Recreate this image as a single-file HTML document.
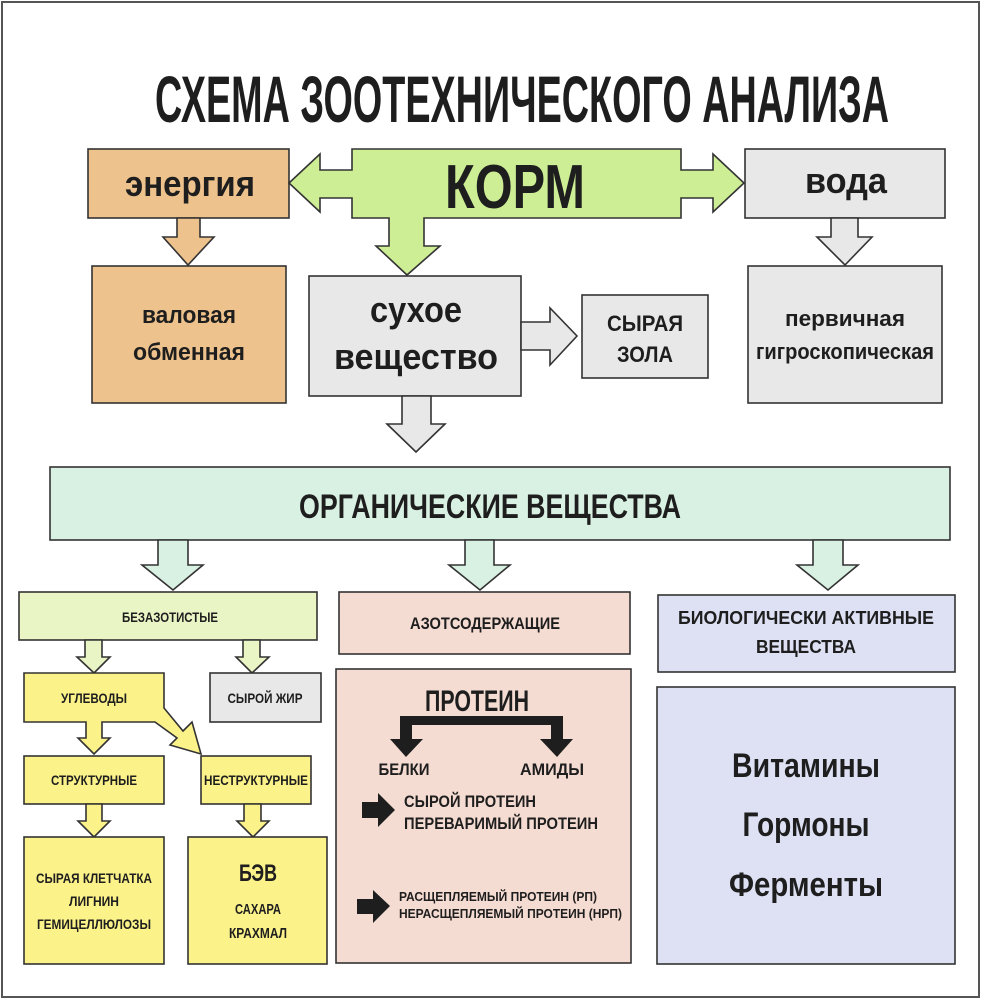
<!DOCTYPE html>
<html><head><meta charset="utf-8"><style>
html,body{margin:0;padding:0;background:#fff;}
svg{display:block;}
text{font-family:"Liberation Sans Narrow","Liberation Sans","DejaVu Sans Condensed",sans-serif;font-weight:bold;fill:#1e1e1e;}
</style></head><body>
<svg width="982" height="1000" viewBox="0 0 982 1000" xmlns="http://www.w3.org/2000/svg">
<rect x="0" y="0" width="982" height="1000" fill="#fff"/>
<rect x="2" y="2" width="977" height="995" fill="#fff" stroke="#555" stroke-width="2"/>
<text x="522" y="122" font-size="66" text-anchor="middle" textLength="734" lengthAdjust="spacingAndGlyphs">СХЕМА ЗООТЕХНИЧЕСКОГО АНАЛИЗА</text>

<g stroke="#333" stroke-width="1.6" stroke-linejoin="miter">
<rect x="88" y="149" width="201" height="69" fill="#EEC28C"/>
<polygon points="177,218 200,218 200,237 214,237 188,265 163,237 177,237" fill="#EEC28C"/>
<rect x="92" y="266" width="194" height="137" fill="#EEC28C"/>
<polygon points="352,149 681,149 681,170 713,170 713,154 744,183 713,212 713,198 681,198 681,218 424,218 424,246 440,246 407,275 376,246 389,246 389,218 352,218 352,198 320,198 320,212 289,183 320,154 320,170 352,170" fill="#CDEE94"/>
<rect x="745" y="149" width="200" height="69" fill="#E8E8E8"/>
<polygon points="831,218 858,218 858,237 872,237 845,265 817,237 831,237" fill="#E8E8E8"/>
<rect x="748" y="266" width="194" height="137" fill="#E8E8E8"/>
<rect x="309" y="276" width="212" height="120" fill="#E8E8E8"/>
<polygon points="521,322 550,322 550,308 577,336 550,365 550,350 521,350" fill="#E8E8E8"/>
<rect x="582" y="295" width="126" height="83" fill="#E8E8E8"/>
<polygon points="402,396 431,396 431,424 445,424 416,452 387,424 402,424" fill="#E8E8E8"/>
<rect x="50" y="467" width="900" height="73" fill="#D9F1E2"/>
<polygon points="158,540 188,540 188,565 203,565 173,590 142,565 158,565" fill="#D9F1E2"/>
<polygon points="465,540 494,540 494,565 510,565 480,590 449,565 465,565" fill="#D9F1E2"/>
<polygon points="813,540 843,540 843,565 858,565 828,590 797,565 813,565" fill="#D9F1E2"/>
<rect x="19" y="592" width="298" height="48" fill="#EAF5C5"/>
<polygon points="85,640 102,640 102,657 110,657 94,673 77,657 85,657" fill="#EAF5C5"/>
<polygon points="243,640 260,640 260,657 269,657 252,673 236,657 243,657" fill="#EAF5C5"/>
<polygon points="24,673 164,673 164,708 183,731 192,722 201,754 170,745 177,738 155,722 102,722 102,738 110,738 94,754 78,738 86,738 86,722 24,722" fill="#FCF28A"/>
<rect x="210" y="673" width="111" height="49" fill="#E8E8E8"/>
<rect x="24" y="756" width="140" height="48" fill="#FCF28A"/>
<rect x="201" y="756" width="110" height="48" fill="#FCF28A"/>
<polygon points="86,804 102,804 102,821 110,821 94,837 78,821 86,821" fill="#FCF28A"/>
<polygon points="244,804 261,804 261,821 269,821 253,837 237,821 244,821" fill="#FCF28A"/>
<rect x="24" y="837" width="140" height="127" fill="#FCF28A"/>
<rect x="188" y="837" width="139" height="127" fill="#FCF28A"/>
<rect x="339" y="592" width="291" height="62" fill="#F5DCD2"/>
<rect x="336" y="669" width="295" height="294" fill="#F5DCD2"/>
<rect x="658" y="595" width="297" height="77" fill="#DDE1F3"/>
<rect x="657" y="687" width="298" height="277" fill="#DDE1F3"/>
</g>

<g fill="#1e1e1e">
<polygon points="400,716 563,716 563,739 573,739 557,757 540,739 551,739 551,725 412,725 412,739 423,739 406,757 390,739 400,739"/>
<polygon points="362,802 378,802 378,793 395,810 378,827 378,818 362,818"/>
<polygon points="357,899 373,899 373,890 390,906 373,923 373,914 357,914"/>
</g>

<text x="190" y="196" font-size="36" text-anchor="middle" textLength="130" lengthAdjust="spacingAndGlyphs">энергия</text>
<text x="515" y="208" font-size="62" text-anchor="middle" textLength="140" lengthAdjust="spacingAndGlyphs">КОРМ</text>
<text x="846" y="193" font-size="36" text-anchor="middle" textLength="82" lengthAdjust="spacingAndGlyphs">вода</text>
<text x="189" y="323" font-size="24" text-anchor="middle" textLength="94" lengthAdjust="spacingAndGlyphs">валовая</text>
<text x="189" y="360" font-size="24" text-anchor="middle" textLength="112" lengthAdjust="spacingAndGlyphs">обменная</text>
<text x="416" y="322" font-size="36" text-anchor="middle" textLength="92" lengthAdjust="spacingAndGlyphs">сухое</text>
<text x="416" y="369" font-size="36" text-anchor="middle" textLength="164" lengthAdjust="spacingAndGlyphs">вещество</text>
<text x="645" y="331" font-size="22" text-anchor="middle" textLength="76" lengthAdjust="spacingAndGlyphs">СЫРАЯ</text>
<text x="645" y="362" font-size="22" text-anchor="middle" textLength="56" lengthAdjust="spacingAndGlyphs">ЗОЛА</text>
<text x="845" y="326" font-size="22" text-anchor="middle" textLength="120" lengthAdjust="spacingAndGlyphs">первичная</text>
<text x="845" y="359" font-size="22" text-anchor="middle" textLength="178" lengthAdjust="spacingAndGlyphs">гигроскопическая</text>
<text x="490" y="518" font-size="34" text-anchor="middle" textLength="382" lengthAdjust="spacingAndGlyphs">ОРГАНИЧЕСКИЕ  ВЕЩЕСТВА</text>
<text x="170" y="622" font-size="14" text-anchor="middle" textLength="96" lengthAdjust="spacingAndGlyphs">БЕЗАЗОТИСТЫЕ</text>
<text x="485" y="629" font-size="17" text-anchor="middle" textLength="150" lengthAdjust="spacingAndGlyphs">АЗОТСОДЕРЖАЩИЕ</text>
<text x="94" y="703" font-size="14" text-anchor="middle" textLength="66" lengthAdjust="spacingAndGlyphs">УГЛЕВОДЫ</text>
<text x="265" y="703" font-size="14" text-anchor="middle" textLength="75" lengthAdjust="spacingAndGlyphs">СЫРОЙ ЖИР</text>
<text x="94" y="785" font-size="14" text-anchor="middle" textLength="86" lengthAdjust="spacingAndGlyphs">СТРУКТУРНЫЕ</text>
<text x="256" y="785" font-size="14" text-anchor="middle" textLength="104" lengthAdjust="spacingAndGlyphs">НЕСТРУКТУРНЫЕ</text>
<text x="94" y="883" font-size="14" text-anchor="middle" textLength="116" lengthAdjust="spacingAndGlyphs">СЫРАЯ КЛЕТЧАТКА</text>
<text x="94" y="906" font-size="14" text-anchor="middle" textLength="50" lengthAdjust="spacingAndGlyphs">ЛИГНИН</text>
<text x="94" y="929" font-size="14" text-anchor="middle" textLength="114" lengthAdjust="spacingAndGlyphs">ГЕМИЦЕЛЛЮЛОЗЫ</text>
<text x="258" y="881" font-size="24" text-anchor="middle" textLength="38" lengthAdjust="spacingAndGlyphs">БЭВ</text>
<text x="258" y="914" font-size="15" text-anchor="middle" textLength="46" lengthAdjust="spacingAndGlyphs">САХАРА</text>
<text x="258" y="938" font-size="15" text-anchor="middle" textLength="58" lengthAdjust="spacingAndGlyphs">КРАХМАЛ</text>
<text x="477" y="711" font-size="30" text-anchor="middle" textLength="104" lengthAdjust="spacingAndGlyphs">ПРОТЕИН</text>
<text x="404" y="775" font-size="17" text-anchor="middle" textLength="51" lengthAdjust="spacingAndGlyphs">БЕЛКИ</text>
<text x="552" y="775" font-size="17" text-anchor="middle" textLength="64" lengthAdjust="spacingAndGlyphs">АМИДЫ</text>
<text x="404" y="807" font-size="17" textLength="132" lengthAdjust="spacingAndGlyphs">СЫРОЙ ПРОТЕИН</text>
<text x="404" y="829" font-size="17" textLength="194" lengthAdjust="spacingAndGlyphs">ПЕРЕВАРИМЫЙ ПРОТЕИН</text>
<text x="399" y="901" font-size="13" textLength="198" lengthAdjust="spacingAndGlyphs">РАСЩЕПЛЯЕМЫЙ ПРОТЕИН (РП)</text>
<text x="399" y="918" font-size="13" textLength="223" lengthAdjust="spacingAndGlyphs">НЕРАСЩЕПЛЯЕМЫЙ ПРОТЕИН (НРП)</text>
<text x="806" y="624" font-size="18" text-anchor="middle" textLength="256" lengthAdjust="spacingAndGlyphs">БИОЛОГИЧЕСКИ АКТИВНЫЕ</text>
<text x="806" y="653" font-size="18" text-anchor="middle" textLength="100" lengthAdjust="spacingAndGlyphs">ВЕЩЕСТВА</text>
<text x="806" y="777" font-size="34" text-anchor="middle" textLength="148" lengthAdjust="spacingAndGlyphs">Витамины</text>
<text x="806" y="836" font-size="34" text-anchor="middle" textLength="127" lengthAdjust="spacingAndGlyphs">Гормоны</text>
<text x="806" y="896" font-size="34" text-anchor="middle" textLength="154" lengthAdjust="spacingAndGlyphs">Ферменты</text>
</svg>
</body></html>
